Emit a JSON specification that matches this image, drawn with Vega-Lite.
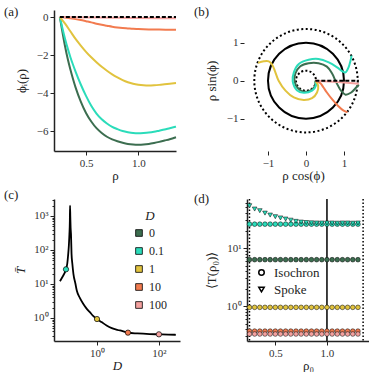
{
  "$schema": "https://vega.github.io/schema/vega-lite/v6.json",
  "padding": {"left": 4, "top": 6, "right": 0, "bottom": 0},
  "background": "white",
  "config": {
    "font": "Liberation Serif",
    "view": {"stroke": null},
    "axis": {"labelFont": "Liberation Serif", "titleFont": "Liberation Serif", "labelFontSize": 11, "titleFontSize": 13, "titleFontWeight": "normal", "domainColor": "#222", "domainWidth": 1.5, "tickColor": "#222", "tickWidth": 1, "tickSize": 4, "labelColor": "#333", "titleColor": "#222", "grid": false, "labelPadding": 2, "labelOverlap": false},
    "title": {"font": "Liberation Serif", "fontSize": 13, "fontWeight": "normal", "anchor": "start", "frame": "group", "baseline": "alphabetic", "color": "#222"},
    "legend": {"labelFont": "Liberation Serif", "titleFont": "Liberation Serif", "labelColor": "#222", "titleColor": "#222"}
  },
  "columns": 2,
  "align": "none",
  "bounds": "flush",
  "spacing": {"row": 48, "column": 67},
  "resolve": {"scale": {"color": "independent", "shape": "independent", "x": "independent", "y": "independent"}, "legend": {"color": "independent", "shape": "independent"}},
  "concat": [
    {
      "width": 122, "height": 141,
      "title": {"text": "(a)", "dx": -50, "offset": -9},
      "layer": [
        {
          "data": {"values": [
            {"rho":0.25,"phi":0,"D":"0"},{"rho":0.275,"phi":-0.8,"D":"0"},{"rho":0.3,"phi":-1.55,"D":"0"},{"rho":0.325,"phi":-2.2,"D":"0"},{"rho":0.35,"phi":-2.75,"D":"0"},{"rho":0.375,"phi":-3.25,"D":"0"},{"rho":0.4,"phi":-3.7,"D":"0"},{"rho":0.45,"phi":-4.45,"D":"0"},{"rho":0.5,"phi":-5.05,"D":"0"},{"rho":0.55,"phi":-5.5,"D":"0"},{"rho":0.6,"phi":-5.85,"D":"0"},{"rho":0.65,"phi":-6.1,"D":"0"},{"rho":0.7,"phi":-6.3,"D":"0"},{"rho":0.75,"phi":-6.44,"D":"0"},{"rho":0.8,"phi":-6.54,"D":"0"},{"rho":0.85,"phi":-6.62,"D":"0"},{"rho":0.9,"phi":-6.68,"D":"0"},{"rho":0.95,"phi":-6.71,"D":"0"},{"rho":1.0,"phi":-6.72,"D":"0"},{"rho":1.05,"phi":-6.71,"D":"0"},{"rho":1.1,"phi":-6.68,"D":"0"},{"rho":1.15,"phi":-6.63,"D":"0"},{"rho":1.2,"phi":-6.57,"D":"0"},{"rho":1.25,"phi":-6.5,"D":"0"},{"rho":1.3,"phi":-6.43,"D":"0"},{"rho":1.36,"phi":-6.33,"D":"0"},
            {"rho":0.25,"phi":0,"D":"0.1"},{"rho":0.275,"phi":-0.6,"D":"0.1"},{"rho":0.3,"phi":-1.15,"D":"0.1"},{"rho":0.325,"phi":-1.65,"D":"0.1"},{"rho":0.35,"phi":-2.1,"D":"0.1"},{"rho":0.375,"phi":-2.5,"D":"0.1"},{"rho":0.4,"phi":-2.87,"D":"0.1"},{"rho":0.45,"phi":-3.55,"D":"0.1"},{"rho":0.5,"phi":-4.15,"D":"0.1"},{"rho":0.55,"phi":-4.67,"D":"0.1"},{"rho":0.6,"phi":-5.08,"D":"0.1"},{"rho":0.65,"phi":-5.38,"D":"0.1"},{"rho":0.7,"phi":-5.6,"D":"0.1"},{"rho":0.75,"phi":-5.78,"D":"0.1"},{"rho":0.8,"phi":-5.9,"D":"0.1"},{"rho":0.85,"phi":-6.0,"D":"0.1"},{"rho":0.9,"phi":-6.06,"D":"0.1"},{"rho":0.95,"phi":-6.1,"D":"0.1"},{"rho":1.0,"phi":-6.11,"D":"0.1"},{"rho":1.05,"phi":-6.1,"D":"0.1"},{"rho":1.1,"phi":-6.08,"D":"0.1"},{"rho":1.15,"phi":-6.04,"D":"0.1"},{"rho":1.2,"phi":-5.98,"D":"0.1"},{"rho":1.25,"phi":-5.92,"D":"0.1"},{"rho":1.3,"phi":-5.85,"D":"0.1"},{"rho":1.36,"phi":-5.77,"D":"0.1"},
            {"rho":0.25,"phi":0,"D":"1"},{"rho":0.3,"phi":-0.35,"D":"1"},{"rho":0.35,"phi":-0.75,"D":"1"},{"rho":0.4,"phi":-1.15,"D":"1"},{"rho":0.45,"phi":-1.5,"D":"1"},{"rho":0.5,"phi":-1.83,"D":"1"},{"rho":0.55,"phi":-2.12,"D":"1"},{"rho":0.6,"phi":-2.38,"D":"1"},{"rho":0.65,"phi":-2.62,"D":"1"},{"rho":0.7,"phi":-2.83,"D":"1"},{"rho":0.75,"phi":-3.02,"D":"1"},{"rho":0.8,"phi":-3.18,"D":"1"},{"rho":0.85,"phi":-3.32,"D":"1"},{"rho":0.9,"phi":-3.43,"D":"1"},{"rho":0.95,"phi":-3.51,"D":"1"},{"rho":1.0,"phi":-3.56,"D":"1"},{"rho":1.05,"phi":-3.59,"D":"1"},{"rho":1.1,"phi":-3.6,"D":"1"},{"rho":1.15,"phi":-3.59,"D":"1"},{"rho":1.2,"phi":-3.57,"D":"1"},{"rho":1.25,"phi":-3.54,"D":"1"},{"rho":1.3,"phi":-3.51,"D":"1"},{"rho":1.36,"phi":-3.47,"D":"1"},
            {"rho":0.25,"phi":0,"D":"10"},{"rho":0.3,"phi":-0.03,"D":"10"},{"rho":0.35,"phi":-0.07,"D":"10"},{"rho":0.4,"phi":-0.11,"D":"10"},{"rho":0.45,"phi":-0.16,"D":"10"},{"rho":0.5,"phi":-0.22,"D":"10"},{"rho":0.55,"phi":-0.28,"D":"10"},{"rho":0.6,"phi":-0.35,"D":"10"},{"rho":0.65,"phi":-0.41,"D":"10"},{"rho":0.7,"phi":-0.46,"D":"10"},{"rho":0.75,"phi":-0.51,"D":"10"},{"rho":0.8,"phi":-0.55,"D":"10"},{"rho":0.85,"phi":-0.58,"D":"10"},{"rho":0.9,"phi":-0.6,"D":"10"},{"rho":0.95,"phi":-0.62,"D":"10"},{"rho":1.0,"phi":-0.63,"D":"10"},{"rho":1.1,"phi":-0.65,"D":"10"},{"rho":1.2,"phi":-0.66,"D":"10"},{"rho":1.36,"phi":-0.67,"D":"10"},
            {"rho":0.25,"phi":0,"D":"100"},{"rho":0.5,"phi":-0.02,"D":"100"},{"rho":0.75,"phi":-0.04,"D":"100"},{"rho":1.0,"phi":-0.055,"D":"100"},{"rho":1.36,"phi":-0.07,"D":"100"}
          ]},
          "mark": {"type": "line", "strokeWidth": 2, "interpolate": "monotone"},
          "encoding": {
            "x": {"field": "rho", "type": "quantitative", "scale": {"domain": [0.194, 1.36], "nice": false, "zero": false}, "axis": {"values": [0.5, 1.0], "format": ".1f", "title": "ρ", "titlePadding": 1}},
            "y": {"field": "phi", "type": "quantitative", "scale": {"domain": [-7.05, 0.37], "nice": false, "zero": false}, "axis": {"values": [-6, -4, -2, 0], "title": "ϕᵢ(ρ)", "titlePadding": 8}},
            "color": {"field": "D", "type": "nominal", "scale": {"domain": ["0", "0.1", "1", "10", "100"], "range": ["#3c6e50", "#2bdcba", "#e1c33e", "#f27b4f", "#f4a19f"]}, "legend": null}
          }
        },
        {
          "data": {"values": [{"rho": 0.25, "phi": 0}, {"rho": 1.36, "phi": 0}]},
          "mark": {"type": "line", "color": "black", "strokeWidth": 2, "strokeDash": [4, 2]},
          "encoding": {"x": {"field": "rho", "type": "quantitative"}, "y": {"field": "phi", "type": "quantitative"}}
        }
      ]
    },
    {
      "width": 112, "height": 141,
      "title": {"text": "(b)", "dx": -53, "offset": -9},
      "encoding": {
        "x": {"field": "x", "type": "quantitative", "scale": {"domain": [-1.553, 1.395], "nice": false, "zero": false}, "axis": {"values": [-1, 0, 1], "domain": false, "title": "ρ cos(ϕ)", "titlePadding": 1}},
        "y": {"field": "y", "type": "quantitative", "scale": {"domain": [-1.85, 1.86], "nice": false, "zero": false}, "axis": {"values": [-1, 0, 1], "domain": false, "offset": 3, "title": "ρ sin(ϕ)", "titlePadding": 8}}
      },
      "layer": [
        {
          "data": {"values": [{"x": 0, "y": 0}]},
          "mark": {"type": "point", "shape": "circle", "size": 5776, "filled": false, "stroke": "black", "strokeWidth": 2, "opacity": 1}
        },
        {
          "data": {"values": [{"x": 0, "y": 0}]},
          "mark": {"type": "point", "shape": "circle", "size": 400, "filled": false, "stroke": "black", "strokeWidth": 2, "strokeDash": [2, 2.2], "opacity": 1}
        },
        {
          "data": {"values": [{"x": 0, "y": 0}]},
          "mark": {"type": "point", "shape": "circle", "size": 10692, "filled": false, "stroke": "black", "strokeWidth": 2, "strokeDash": [2, 2.5], "opacity": 1}
        },
        {
          "data": {"values": [
            {"i":0,"x":0.245,"y":0,"D":"0"},{"i":1,"x":0.23,"y":-0.16,"D":"0"},{"i":2,"x":0.11,"y":-0.26,"D":"0"},{"i":3,"x":-0.06,"y":-0.29,"D":"0"},{"i":4,"x":-0.21,"y":-0.2,"D":"0"},{"i":5,"x":-0.3,"y":-0.02,"D":"0"},{"i":6,"x":-0.28,"y":0.19,"D":"0"},{"i":7,"x":-0.15,"y":0.38,"D":"0"},{"i":8,"x":0.07,"y":0.46,"D":"0"},{"i":9,"x":0.33,"y":0.46,"D":"0"},{"i":10,"x":0.55,"y":0.37,"D":"0"},{"i":11,"x":0.68,"y":0.2,"D":"0"},{"i":12,"x":0.8,"y":-0.05,"D":"0"},{"i":13,"x":0.92,"y":-0.26,"D":"0"},{"i":14,"x":1.04,"y":-0.37,"D":"0"},{"i":15,"x":1.19,"y":-0.31,"D":"0"},{"i":16,"x":1.32,"y":-0.18,"D":"0"},{"i":17,"x":1.39,"y":-0.1,"D":"0"},
            {"i":0,"x":0.245,"y":0,"D":"0.1"},{"i":1,"x":0.26,"y":-0.13,"D":"0.1"},{"i":2,"x":0.16,"y":-0.26,"D":"0.1"},{"i":3,"x":-0.06,"y":-0.32,"D":"0.1"},{"i":4,"x":-0.24,"y":-0.25,"D":"0.1"},{"i":5,"x":-0.35,"y":-0.02,"D":"0.1"},{"i":6,"x":-0.32,"y":0.22,"D":"0.1"},{"i":7,"x":-0.19,"y":0.44,"D":"0.1"},{"i":8,"x":0.07,"y":0.55,"D":"0.1"},{"i":9,"x":0.33,"y":0.57,"D":"0.1"},{"i":10,"x":0.6,"y":0.48,"D":"0.1"},{"i":11,"x":0.82,"y":0.35,"D":"0.1"},{"i":12,"x":0.97,"y":0.24,"D":"0.1"},{"i":13,"x":1.04,"y":0.22,"D":"0.1"},{"i":14,"x":1.12,"y":0.35,"D":"0.1"},{"i":15,"x":1.17,"y":0.52,"D":"0.1"},{"i":16,"x":1.2,"y":0.66,"D":"0.1"},
            {"i":0,"x":0.245,"y":0,"D":"1"},{"i":1,"x":0.32,"y":-0.13,"D":"1"},{"i":2,"x":0.29,"y":-0.31,"D":"1"},{"i":3,"x":0.16,"y":-0.46,"D":"1"},{"i":4,"x":-0.06,"y":-0.51,"D":"1"},{"i":5,"x":-0.32,"y":-0.44,"D":"1"},{"i":6,"x":-0.54,"y":-0.26,"D":"1"},{"i":7,"x":-0.72,"y":0,"D":"1"},{"i":8,"x":-0.82,"y":0.26,"D":"1"},{"i":9,"x":-0.89,"y":0.42,"D":"1"},{"i":10,"x":-0.98,"y":0.51,"D":"1"},{"i":11,"x":-1.11,"y":0.51,"D":"1"},{"i":12,"x":-1.26,"y":0.47,"D":"1"},
            {"i":0,"x":0.245,"y":0,"D":"10"},{"i":1,"x":0.38,"y":-0.07,"D":"10"},{"i":2,"x":0.46,"y":-0.18,"D":"10"},{"i":3,"x":0.55,"y":-0.31,"D":"10"},{"i":4,"x":0.68,"y":-0.48,"D":"10"},{"i":5,"x":0.84,"y":-0.66,"D":"10"},{"i":6,"x":0.99,"y":-0.79,"D":"10"},{"i":7,"x":1.09,"y":-0.83,"D":"10"},
            {"i":0,"x":0.245,"y":0,"D":"100"},{"i":1,"x":0.6,"y":-0.02,"D":"100"},{"i":2,"x":1.0,"y":-0.05,"D":"100"},{"i":3,"x":1.39,"y":-0.08,"D":"100"}
          ]},
          "mark": {"type": "line", "strokeWidth": 2, "interpolate": "catmull-rom"},
          "encoding": {
            "order": {"field": "i", "type": "quantitative"},
            "color": {"field": "D", "type": "nominal", "scale": {"domain": ["0", "0.1", "1", "10", "100"], "range": ["#3c6e50", "#2bdcba", "#e1c33e", "#f27b4f", "#f4a19f"]}, "legend": null}
          }
        },
        {
          "data": {"values": [{"i": 0, "x": 0.245, "y": 0}, {"i": 1, "x": 1.39, "y": 0}]},
          "mark": {"type": "line", "color": "black", "strokeWidth": 2, "strokeDash": [4, 2]},
          "encoding": {"order": {"field": "i", "type": "quantitative"}}
        },
        {
          "data": {"values": [{}]},
          "mark": {"type": "rule", "color": "#222", "strokeWidth": 1.5, "clip": false},
          "encoding": {"x": {"datum": -1.632}, "y": {"datum": -1.42}, "y2": {"datum": 1.42}}
        },
        {
          "data": {"values": [{}]},
          "mark": {"type": "rule", "color": "#222", "strokeWidth": 1.5},
          "encoding": {"x": {"datum": -1.37}, "x2": {"datum": 1.395}, "y": {"datum": -1.85}}
        }
      ]
    },
    {
      "width": 126, "height": 142,
      "title": {"text": "(c)", "dx": -50, "offset": -8},
      "encoding": {
        "x": {"field": "D", "type": "quantitative", "scale": {"type": "log", "domain": [0.041, 478], "nice": false}, "axis": {"values": [1, 100], "labelExpr": "datum.value == 1 ? '10⁰' : '10²'", "title": "D", "titleFontStyle": "italic", "titlePadding": 1}},
        "y": {"field": "T", "type": "quantitative", "scale": {"type": "log", "domain": [0.21, 3160], "nice": false}, "axis": {"values": [0.3,0.4,0.5,0.6,0.7,0.8,0.9,1,2,3,4,5,6,7,8,9,10,20,30,40,50,60,70,80,90,100,200,300,400,500,600,700,800,900,1000,2000,3000], "labelExpr": "datum.value == 1 ? '10⁰' : datum.value == 10 ? '10¹' : datum.value == 100 ? '10²' : datum.value == 1000 ? '10³' : ''", "tickSize": {"condition": {"test": "datum.value == 1 || datum.value == 10 || datum.value == 100 || datum.value == 1000", "value": 4}, "value": 2}, "title": "T̄", "titleFontStyle": "italic", "titlePadding": 6}}
      },
      "layer": [
        {
          "data": {"values": [
            {"D":0.064,"T":12},{"D":0.075,"T":15.5},{"D":0.088,"T":20},{"D":0.1,"T":27},{"D":0.11,"T":40},{"D":0.117,"T":70},{"D":0.124,"T":140},{"D":0.129,"T":295},{"D":0.133,"T":700},{"D":0.135,"T":2000},{"D":0.138,"T":900},{"D":0.141,"T":450},{"D":0.145,"T":295},{"D":0.151,"T":76},{"D":0.16,"T":40},{"D":0.174,"T":19.5},{"D":0.2,"T":10.5},{"D":0.224,"T":6.3},{"D":0.28,"T":3.9},{"D":0.363,"T":2.57},{"D":0.45,"T":1.95},{"D":0.589,"T":1.48},{"D":0.75,"T":1.15},{"D":1.0,"T":0.93},{"D":1.4,"T":0.76},{"D":2.04,"T":0.6},{"D":3.0,"T":0.5},{"D":5.5,"T":0.43},{"D":10,"T":0.37},{"D":20,"T":0.35},{"D":50,"T":0.335},{"D":100,"T":0.33},{"D":200,"T":0.325},{"D":350,"T":0.32}
          ]},
          "mark": {"type": "line", "color": "black", "strokeWidth": 1.8, "interpolate": "monotone"}
        },
        {
          "data": {"values": [{"D": 0.1, "T": 27, "cat": "0.1"}, {"D": 1, "T": 0.93, "cat": "1"}, {"D": 10, "T": 0.37, "cat": "10"}, {"D": 100, "T": 0.33, "cat": "100"}]},
          "mark": {"type": "point", "filled": true, "size": 28, "stroke": "black", "strokeWidth": 0.7, "opacity": 1},
          "encoding": {
            "color": {"field": "cat", "type": "nominal", "scale": {"domain": ["0", "0.1", "1", "10", "100"], "range": ["#3c6e50", "#2bdcba", "#e1c33e", "#f27b4f", "#f4a19f"]},
              "legend": {"orient": "none", "legendX": 79, "legendY": 11, "title": "D", "titleFontStyle": "italic", "titleFontSize": 13, "titleFontWeight": "normal", "titleAnchor": "middle", "titlePadding": 4, "symbolType": "square", "symbolSize": 45, "symbolStrokeColor": "black", "symbolStrokeWidth": 0.8, "labelFontSize": 12, "labelOffset": 4, "rowPadding": 6,
                "encode": {"symbols": {"update": {"shape": {"value": "square"}, "stroke": {"value": "black"}, "strokeWidth": {"value": 0.8}, "opacity": {"value": 1}}}}}}
          }
        }
      ]
    },
    {
      "width": 122, "height": 142,
      "title": {"text": "(d)", "dx": -53, "offset": -9},
      "encoding": {
        "x": {"field": "rho0", "type": "quantitative", "scale": {"domain": [0.226, 1.407], "nice": false, "zero": false}, "axis": {"values": [0.5, 1.0], "format": ".1f", "title": "ρ₀", "titlePadding": 1}},
        "y": {"field": "T", "type": "quantitative", "scale": {"type": "log", "domain": [0.25, 70], "nice": false}, "axis": {"values": [0.3,0.4,0.5,0.6,0.7,0.8,0.9,1,2,3,4,5,6,7,8,9,10,20,30,40,50,60], "labelExpr": "datum.value == 1 ? '10⁰' : datum.value == 10 ? '10¹' : ''", "tickSize": {"condition": {"test": "datum.value == 1 || datum.value == 10", "value": 4}, "value": 2}, "title": "⟨T(ρ₀)⟩", "titlePadding": 8}}
      },
      "layer": [
        {
          "data": {"values": [{"rho0": 0.25}, {"rho0": 1.35}]},
          "mark": {"type": "rule", "color": "black", "strokeWidth": 1.5, "strokeDash": [1.5, 2]},
          "encoding": {"y": null}
        },
        {
          "data": {"values": [{"rho0": 1.0}]},
          "mark": {"type": "rule", "color": "black", "strokeWidth": 1.5},
          "encoding": {"y": null}
        },
        {
          "data": {"values": [
            {"rho0":0.25,"T":6.3,"D":"0","method":"Isochron"},{"rho0":0.3,"T":6.3,"D":"0","method":"Isochron"},{"rho0":0.35,"T":6.3,"D":"0","method":"Isochron"},{"rho0":0.4,"T":6.3,"D":"0","method":"Isochron"},{"rho0":0.45,"T":6.3,"D":"0","method":"Isochron"},{"rho0":0.5,"T":6.3,"D":"0","method":"Isochron"},{"rho0":0.55,"T":6.3,"D":"0","method":"Isochron"},{"rho0":0.6,"T":6.3,"D":"0","method":"Isochron"},{"rho0":0.65,"T":6.3,"D":"0","method":"Isochron"},{"rho0":0.7,"T":6.3,"D":"0","method":"Isochron"},{"rho0":0.75,"T":6.3,"D":"0","method":"Isochron"},{"rho0":0.8,"T":6.3,"D":"0","method":"Isochron"},{"rho0":0.85,"T":6.3,"D":"0","method":"Isochron"},{"rho0":0.9,"T":6.3,"D":"0","method":"Isochron"},{"rho0":0.95,"T":6.3,"D":"0","method":"Isochron"},{"rho0":1.0,"T":6.3,"D":"0","method":"Isochron"},{"rho0":1.05,"T":6.3,"D":"0","method":"Isochron"},{"rho0":1.1,"T":6.3,"D":"0","method":"Isochron"},{"rho0":1.15,"T":6.3,"D":"0","method":"Isochron"},{"rho0":1.2,"T":6.3,"D":"0","method":"Isochron"},{"rho0":1.25,"T":6.3,"D":"0","method":"Isochron"},{"rho0":1.3,"T":6.3,"D":"0","method":"Isochron"},
            {"rho0":0.25,"T":25.8,"D":"0.1","method":"Isochron"},{"rho0":0.3,"T":25.8,"D":"0.1","method":"Isochron"},{"rho0":0.35,"T":25.8,"D":"0.1","method":"Isochron"},{"rho0":0.4,"T":25.8,"D":"0.1","method":"Isochron"},{"rho0":0.45,"T":25.8,"D":"0.1","method":"Isochron"},{"rho0":0.5,"T":25.8,"D":"0.1","method":"Isochron"},{"rho0":0.55,"T":25.8,"D":"0.1","method":"Isochron"},{"rho0":0.6,"T":25.8,"D":"0.1","method":"Isochron"},{"rho0":0.65,"T":25.8,"D":"0.1","method":"Isochron"},{"rho0":0.7,"T":25.8,"D":"0.1","method":"Isochron"},{"rho0":0.75,"T":25.8,"D":"0.1","method":"Isochron"},{"rho0":0.8,"T":25.8,"D":"0.1","method":"Isochron"},{"rho0":0.85,"T":25.8,"D":"0.1","method":"Isochron"},{"rho0":0.9,"T":25.8,"D":"0.1","method":"Isochron"},{"rho0":0.95,"T":25.8,"D":"0.1","method":"Isochron"},{"rho0":1.0,"T":25.8,"D":"0.1","method":"Isochron"},{"rho0":1.05,"T":25.8,"D":"0.1","method":"Isochron"},{"rho0":1.1,"T":25.8,"D":"0.1","method":"Isochron"},{"rho0":1.15,"T":25.8,"D":"0.1","method":"Isochron"},{"rho0":1.2,"T":25.8,"D":"0.1","method":"Isochron"},{"rho0":1.25,"T":25.8,"D":"0.1","method":"Isochron"},{"rho0":1.3,"T":25.8,"D":"0.1","method":"Isochron"},
            {"rho0":0.25,"T":0.95,"D":"1","method":"Isochron"},{"rho0":0.3,"T":0.95,"D":"1","method":"Isochron"},{"rho0":0.35,"T":0.95,"D":"1","method":"Isochron"},{"rho0":0.4,"T":0.95,"D":"1","method":"Isochron"},{"rho0":0.45,"T":0.95,"D":"1","method":"Isochron"},{"rho0":0.5,"T":0.95,"D":"1","method":"Isochron"},{"rho0":0.55,"T":0.95,"D":"1","method":"Isochron"},{"rho0":0.6,"T":0.95,"D":"1","method":"Isochron"},{"rho0":0.65,"T":0.95,"D":"1","method":"Isochron"},{"rho0":0.7,"T":0.95,"D":"1","method":"Isochron"},{"rho0":0.75,"T":0.95,"D":"1","method":"Isochron"},{"rho0":0.8,"T":0.95,"D":"1","method":"Isochron"},{"rho0":0.85,"T":0.95,"D":"1","method":"Isochron"},{"rho0":0.9,"T":0.95,"D":"1","method":"Isochron"},{"rho0":0.95,"T":0.95,"D":"1","method":"Isochron"},{"rho0":1.0,"T":0.95,"D":"1","method":"Isochron"},{"rho0":1.05,"T":0.95,"D":"1","method":"Isochron"},{"rho0":1.1,"T":0.95,"D":"1","method":"Isochron"},{"rho0":1.15,"T":0.95,"D":"1","method":"Isochron"},{"rho0":1.2,"T":0.95,"D":"1","method":"Isochron"},{"rho0":1.25,"T":0.95,"D":"1","method":"Isochron"},{"rho0":1.3,"T":0.95,"D":"1","method":"Isochron"},
            {"rho0":0.25,"T":0.37,"D":"10","method":"Isochron"},{"rho0":0.3,"T":0.37,"D":"10","method":"Isochron"},{"rho0":0.35,"T":0.37,"D":"10","method":"Isochron"},{"rho0":0.4,"T":0.37,"D":"10","method":"Isochron"},{"rho0":0.45,"T":0.37,"D":"10","method":"Isochron"},{"rho0":0.5,"T":0.37,"D":"10","method":"Isochron"},{"rho0":0.55,"T":0.37,"D":"10","method":"Isochron"},{"rho0":0.6,"T":0.37,"D":"10","method":"Isochron"},{"rho0":0.65,"T":0.37,"D":"10","method":"Isochron"},{"rho0":0.7,"T":0.37,"D":"10","method":"Isochron"},{"rho0":0.75,"T":0.37,"D":"10","method":"Isochron"},{"rho0":0.8,"T":0.37,"D":"10","method":"Isochron"},{"rho0":0.85,"T":0.37,"D":"10","method":"Isochron"},{"rho0":0.9,"T":0.37,"D":"10","method":"Isochron"},{"rho0":0.95,"T":0.37,"D":"10","method":"Isochron"},{"rho0":1.0,"T":0.37,"D":"10","method":"Isochron"},{"rho0":1.05,"T":0.37,"D":"10","method":"Isochron"},{"rho0":1.1,"T":0.37,"D":"10","method":"Isochron"},{"rho0":1.15,"T":0.37,"D":"10","method":"Isochron"},{"rho0":1.2,"T":0.37,"D":"10","method":"Isochron"},{"rho0":1.25,"T":0.37,"D":"10","method":"Isochron"},{"rho0":1.3,"T":0.37,"D":"10","method":"Isochron"},
            {"rho0":0.25,"T":0.33,"D":"100","method":"Isochron"},{"rho0":0.3,"T":0.33,"D":"100","method":"Isochron"},{"rho0":0.35,"T":0.33,"D":"100","method":"Isochron"},{"rho0":0.4,"T":0.33,"D":"100","method":"Isochron"},{"rho0":0.45,"T":0.33,"D":"100","method":"Isochron"},{"rho0":0.5,"T":0.33,"D":"100","method":"Isochron"},{"rho0":0.55,"T":0.33,"D":"100","method":"Isochron"},{"rho0":0.6,"T":0.33,"D":"100","method":"Isochron"},{"rho0":0.65,"T":0.33,"D":"100","method":"Isochron"},{"rho0":0.7,"T":0.33,"D":"100","method":"Isochron"},{"rho0":0.75,"T":0.33,"D":"100","method":"Isochron"},{"rho0":0.8,"T":0.33,"D":"100","method":"Isochron"},{"rho0":0.85,"T":0.33,"D":"100","method":"Isochron"},{"rho0":0.9,"T":0.33,"D":"100","method":"Isochron"},{"rho0":0.95,"T":0.33,"D":"100","method":"Isochron"},{"rho0":1.0,"T":0.33,"D":"100","method":"Isochron"},{"rho0":1.05,"T":0.33,"D":"100","method":"Isochron"},{"rho0":1.1,"T":0.33,"D":"100","method":"Isochron"},{"rho0":1.15,"T":0.33,"D":"100","method":"Isochron"},{"rho0":1.2,"T":0.33,"D":"100","method":"Isochron"},{"rho0":1.25,"T":0.33,"D":"100","method":"Isochron"},{"rho0":1.3,"T":0.33,"D":"100","method":"Isochron"},
            {"rho0":0.25,"T":53.6,"D":"0.1","method":"Spoke"},{"rho0":0.3,"T":47,"D":"0.1","method":"Spoke"},{"rho0":0.35,"T":44,"D":"0.1","method":"Spoke"},{"rho0":0.4,"T":40,"D":"0.1","method":"Spoke"},{"rho0":0.45,"T":37,"D":"0.1","method":"Spoke"},{"rho0":0.5,"T":34.7,"D":"0.1","method":"Spoke"},{"rho0":0.55,"T":33,"D":"0.1","method":"Spoke"},{"rho0":0.6,"T":31.6,"D":"0.1","method":"Spoke"},{"rho0":0.65,"T":30.2,"D":"0.1","method":"Spoke"},{"rho0":0.7,"T":28.8,"D":"0.1","method":"Spoke"},{"rho0":0.75,"T":28,"D":"0.1","method":"Spoke"},{"rho0":0.8,"T":27.5,"D":"0.1","method":"Spoke"},{"rho0":0.85,"T":27.2,"D":"0.1","method":"Spoke"},{"rho0":0.9,"T":27,"D":"0.1","method":"Spoke"},{"rho0":0.95,"T":27,"D":"0.1","method":"Spoke"},{"rho0":1.0,"T":27,"D":"0.1","method":"Spoke"},{"rho0":1.05,"T":27,"D":"0.1","method":"Spoke"},{"rho0":1.1,"T":26.8,"D":"0.1","method":"Spoke"},{"rho0":1.15,"T":27,"D":"0.1","method":"Spoke"},{"rho0":1.2,"T":27,"D":"0.1","method":"Spoke"},{"rho0":1.25,"T":26.8,"D":"0.1","method":"Spoke"},{"rho0":1.3,"T":27,"D":"0.1","method":"Spoke"}
          ]},
          "mark": {"type": "point", "filled": true, "size": 22, "stroke": "black", "strokeWidth": 0.5, "opacity": 1},
          "encoding": {
            "color": {"field": "D", "type": "nominal", "scale": {"domain": ["0", "0.1", "1", "10", "100"], "range": ["#3c6e50", "#2bdcba", "#e1c33e", "#f27b4f", "#f4a19f"]}, "legend": null},
            "shape": {"field": "method", "type": "nominal", "scale": {"domain": ["Isochron", "Spoke"], "range": ["circle", "triangle-down"]},
              "legend": {"orient": "none", "legendX": 8, "legendY": 67, "title": null, "symbolSize": 30, "labelFontSize": 13, "labelOffset": 6, "rowPadding": 3, "symbolFillColor": "white", "symbolStrokeColor": "black",
                "encode": {"symbols": {"update": {"fill": {"value": "white"}, "stroke": {"value": "black"}, "strokeWidth": {"value": 1}, "opacity": {"value": 1}}}}}}
          }
        }
      ]
    }
  ]
}
